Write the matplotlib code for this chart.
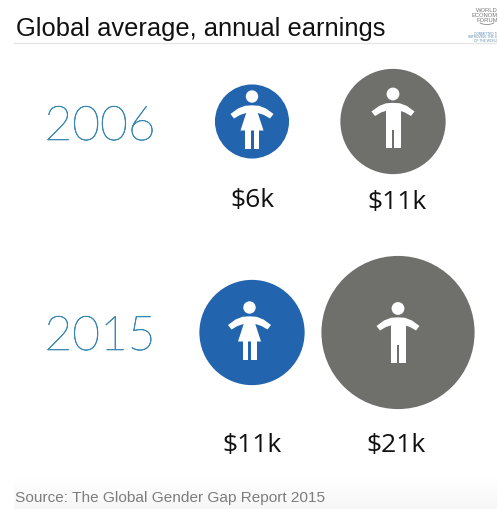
import matplotlib
matplotlib.use("Agg")
import matplotlib.pyplot as plt
import matplotlib.patheffects as pe
import numpy as np
from matplotlib.patches import Arc, Circle, Polygon, Rectangle

# Average annual earnings, thousands of USD
years = ["2006", "2015"]
female_earnings = [6, 11]
male_earnings = [11, 21]
title = "Global average, annual earnings"
source = "Source: The Global Gender Gap Report 2015"
logo_words = ["WORLD", "ECONOMIC", "FORUM"]
logo_tagline = ["COMMITTED TO", "IMPROVING THE STATE", "OF THE WORLD"]

BLUE = "#2364ae"
GREY = "#6f6f6b"
YEAR_COLOR = "#3a88b2"

# bubble radius in pixels for a value in $k
RADIUS_K = 13.1
RADIUS_POW = 0.58


def radius(value):
    return RADIUS_K * value ** RADIUS_POW


def draw_arms(ax, x, y):
    # curved arms, offsets measured from the head centre
    outer = [(-21.5, 17.5), (-14, 12), (-7, 9.3), (0, 8.8), (7, 9.3), (14, 12), (21.5, 17.5)]
    inner = [(18, 22), (12, 18.5), (6, 16.5), (-6, 16.5), (-12, 18.5), (-18, 22)]
    pts = [(x + dx, y + dy) for dx, dy in outer + inner]
    ax.add_patch(Polygon(pts, closed=True, fc="white", ec="none"))


def draw_woman(ax, x, y):
    ax.add_patch(Circle((x, y), 6.2, fc="white", ec="none"))
    draw_arms(ax, x, y)
    dress = [(-5, 14), (5, 14), (11.5, 34), (-11.5, 34)]
    ax.add_patch(Polygon([(x + dx, y + dy) for dx, dy in dress], closed=True, fc="white", ec="none"))
    ax.add_patch(Rectangle((x - 7, y + 33), 5.5, 19.5, fc="white", ec="none"))
    ax.add_patch(Rectangle((x + 1.5, y + 33), 5.5, 19.5, fc="white", ec="none"))


def draw_man(ax, x, y):
    ax.add_patch(Circle((x, y), 6.4, fc="white", ec="none"))
    draw_arms(ax, x, y)
    ax.add_patch(Rectangle((x - 7.5, y + 11), 15, 25, fc="white", ec="none"))
    ax.add_patch(Rectangle((x - 7.5, y + 35), 6.8, 19.3, fc="white", ec="none"))
    ax.add_patch(Rectangle((x + 0.7, y + 35), 6.8, 19.3, fc="white", ec="none"))


fig = plt.figure(figsize=(4.97, 5.10), dpi=100)
ax = fig.add_axes([0, 0, 1, 1])

# footer band fades to light grey at the bottom edge
band = np.linspace(0, 1, 32).reshape(-1, 1)
ax.imshow(band, extent=(14, 497, 510, 478), cmap="Greys", vmin=0, vmax=14, aspect="auto", zorder=0)
ax.set_xlim(0, 497)
ax.set_ylim(510, 0)
ax.axis("off")

# header and footer
ax.text(16, 36, title, fontsize=18.4, family="Liberation Sans", color="#111111", ha="left", va="baseline")
ax.plot([14, 497], [43.5, 43.5], color="#e6e6e6", lw=1)
ax.text(15, 502, source, fontsize=11.1, family="Liberation Sans", color="#7d7d7d", ha="left", va="baseline")

# forum logo, runs off the right edge
for ypos, word in zip([10, 15.5, 20.5], logo_words):
    ax.text(487, ypos, word, fontsize=4.2, family="Liberation Sans", color="#777777", ha="center", va="center")
ax.add_patch(Arc((487, 21), 18, 9, theta1=20, theta2=160, color="#8a8a8a", lw=0.6))
for ypos, word in zip([34, 37.5, 41], logo_tagline):
    ax.text(486, ypos, word, fontsize=2.3, family="Liberation Sans", color="#5f8db5", ha="center", va="center")

# one row per year
year_baseline = [141, 351]
female_x = [252, 252]
male_x = [393, 398]
row_y = [122.5, 333.5]
label_baseline = [[207, 209], [452, 452]]
male_label_x = [397, 396]
female_head_dx = [0, -2.5]
male_head_dy = [-27.5, -24]
for i, year in enumerate(years):
    year_text = ax.text(100, year_baseline[i], year, fontsize=34.5, family="Lato", fontweight="light", color=YEAR_COLOR, ha="center", va="baseline")
    # the light face is very thin, thicken it a little
    year_text.set_path_effects([pe.withStroke(linewidth=0.45, foreground=YEAR_COLOR)])
    ax.add_patch(Circle((female_x[i], row_y[i]), radius(female_earnings[i]), fc=BLUE, ec="none"))
    ax.add_patch(Circle((male_x[i], row_y[i]), radius(male_earnings[i]), fc=GREY, ec="none"))
    draw_woman(ax, female_x[i] + female_head_dx[i], row_y[i] - 25)
    draw_man(ax, male_x[i], row_y[i] + male_head_dy[i])
    ax.text(252, label_baseline[i][0], f"${female_earnings[i]}k", fontsize=19, family="Open Sans", color="#111111", ha="center", va="baseline")
    ax.text(male_label_x[i], label_baseline[i][1], f"${male_earnings[i]}k", fontsize=19, family="Open Sans", color="#111111", ha="center", va="baseline")

fig.savefig("out.png", dpi=100, facecolor="white")
